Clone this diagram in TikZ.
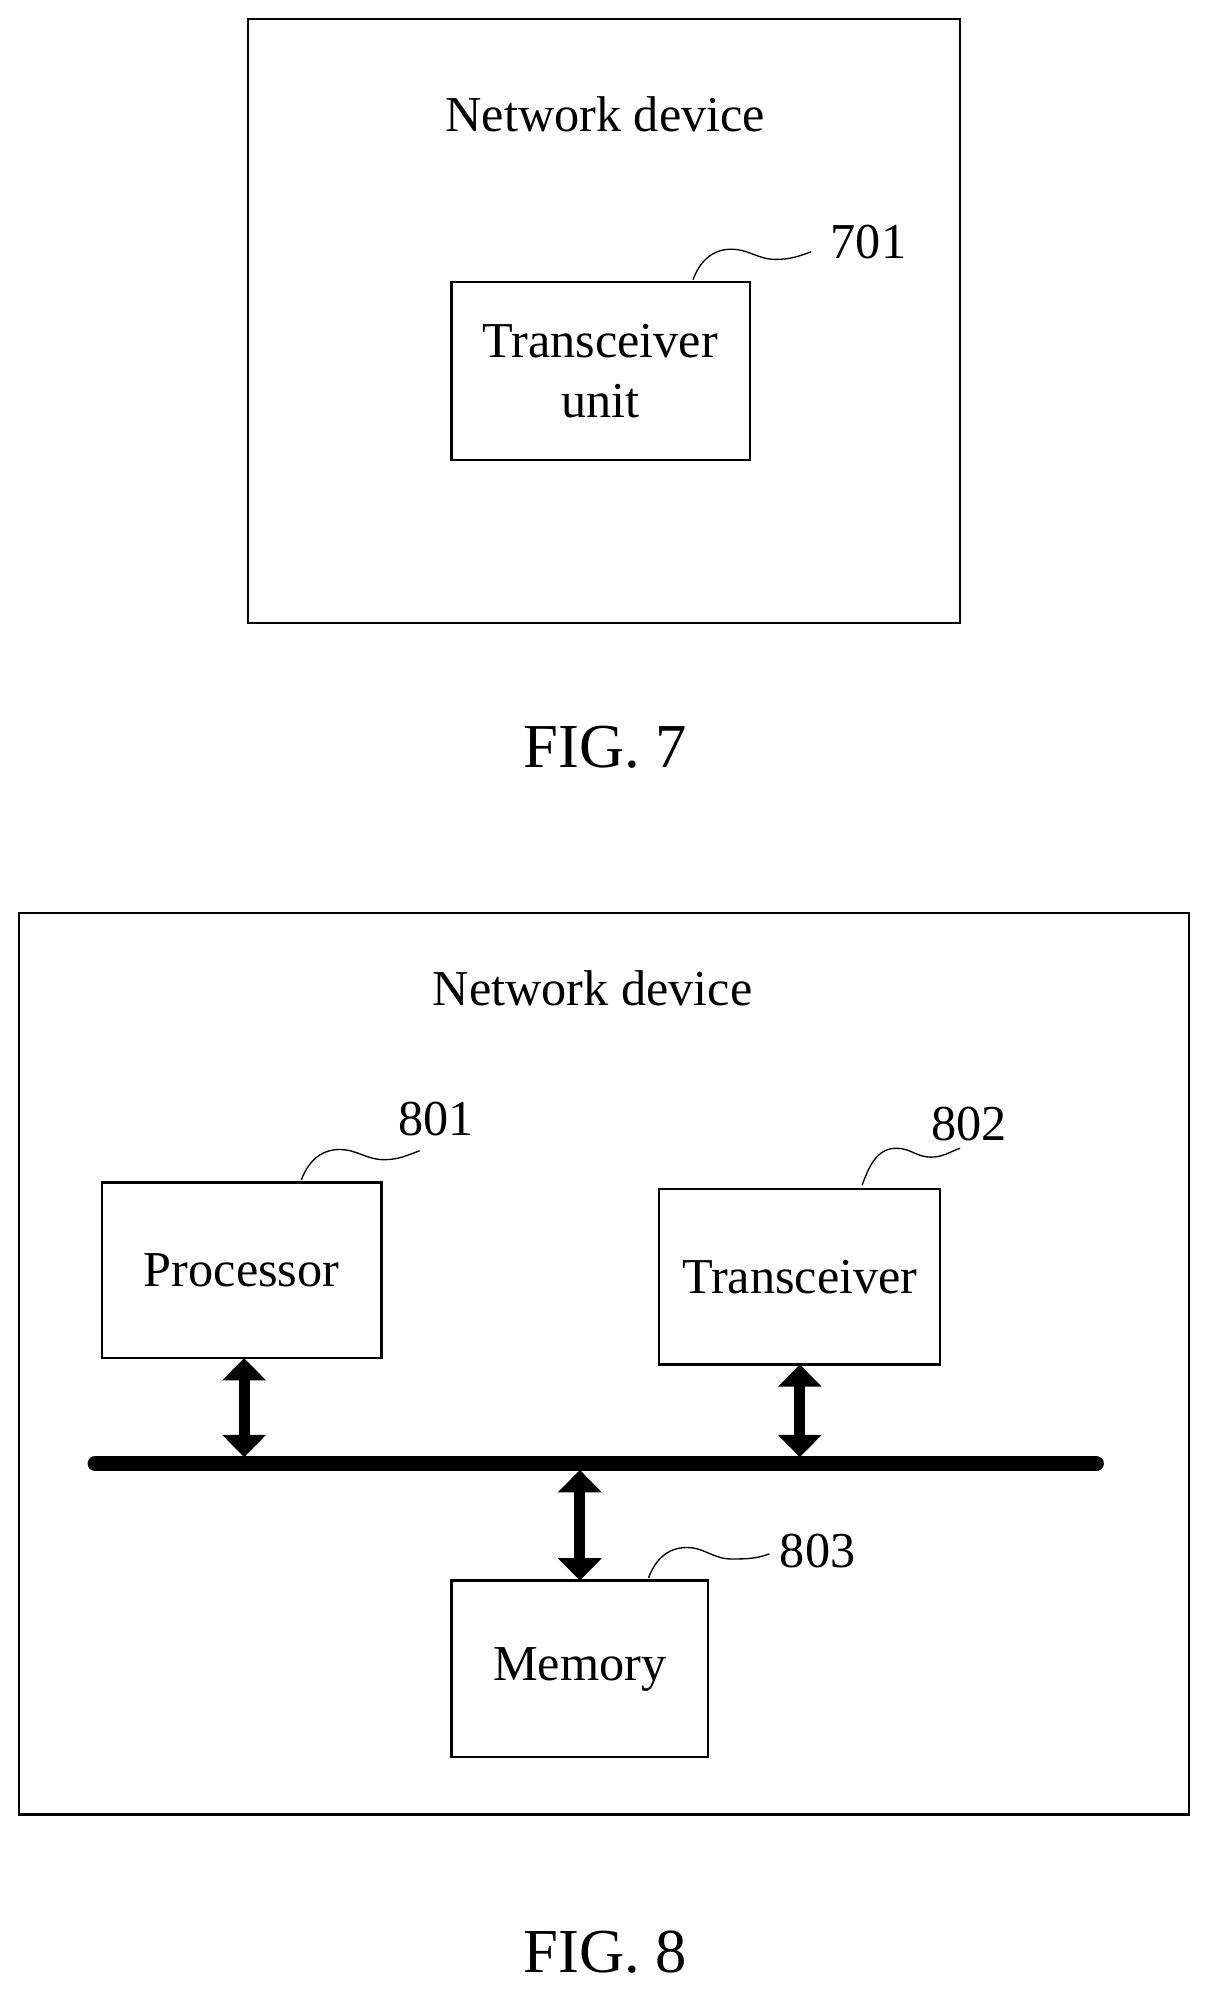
\documentclass[tikz,border=0pt]{standalone}
\usepackage{fontspec}
\setmainfont{Liberation Serif}
\usetikzlibrary{arrows.meta}
\begin{document}
\begin{tikzpicture}[x=0.02cm,y=-0.02cm,
  box/.style={draw,line width=1pt,inner sep=0pt},
  lbl/.style={font=\fontsize{22.5}{27}\selectfont,align=center},
  figcap/.style={font=\fontsize{28}{32}\selectfont},
  sq/.style={line width=0.6pt},
  dbl/.style={line width=5pt,{Triangle[width=19pt,length=10pt]}-{Triangle[width=19pt,length=10pt]}}]
\useasboundingbox (0,0) rectangle (950,1565);
% FIG 7
\draw[box] (195,15) rectangle (755,490);
\node[lbl] (nd7) at (476,90) {Network device};
\draw[box] (355,222) rectangle (590,362);
\node[lbl] (tu) at (472,292) {Transceiver\\unit};
\coordinate (s7a) at (545,220); \coordinate (s7b) at (638,198);
\draw[sq] (s7a) to[out=70,in=180] (575,196) to[out=0,in=180] (610,204) to[out=0,in=200] (s7b);
\node[lbl] (n701) at (683,190) {701};
\node[figcap] (f7) at (476,588) {FIG. 7};
% FIG 8
\draw[box] (15,718) rectangle (935,1427);
\node[lbl] (nd8) at (466,777) {Network device};
\draw[box] (80,930) rectangle (300,1068);
\node[lbl] (proc) at (190,999) {Processor};
\draw[box] (518,935) rectangle (739,1073);
\node[lbl] (trx) at (629,1004) {Transceiver};
\draw[box] (355,1243) rectangle (557,1382);
\node[lbl] (mem) at (456,1313) {Memory};
\coordinate (b1) at (75,1151); \coordinate (b2) at (862,1151);
\draw[line width=7pt,line cap=round] (b1) -- (b2);
\coordinate (p1) at (192,1068); \coordinate (p2) at (192,1146);
\coordinate (t1) at (629,1073); \coordinate (t2) at (629,1146);
\coordinate (m1) at (456,1156); \coordinate (m2) at (456,1243);
\draw[dbl] (p1) -- (p2);
\draw[dbl] (t1) -- (t2);
\draw[dbl] (m1) -- (m2);
\coordinate (s1a) at (237,928); \coordinate (s1b) at (330,905);
\draw[sq] (s1a) to[out=70,in=180] (267,904) to[out=0,in=180] (302,912) to[out=0,in=200] (s1b);
\node[lbl] (n801) at (343,880) {801};
\coordinate (s2a) at (678,932); \coordinate (s2b) at (755,903);
\draw[sq] (s2a) to[out=70,in=180] (705,903) to[out=0,in=180] (732,910) to[out=0,in=200] (s2b);
\node[lbl] (n802) at (762,884) {802};
\coordinate (s3a) at (510,1241); \coordinate (s3b) at (605,1222);
\draw[sq] (s3a) to[out=70,in=180] (540,1217) to[out=0,in=180] (575,1226) to[out=0,in=200] (s3b);
\node[lbl] (n803) at (643,1220) {803};
\node[figcap] (f8) at (476,1535) {FIG. 8};
\end{tikzpicture}
\end{document}
